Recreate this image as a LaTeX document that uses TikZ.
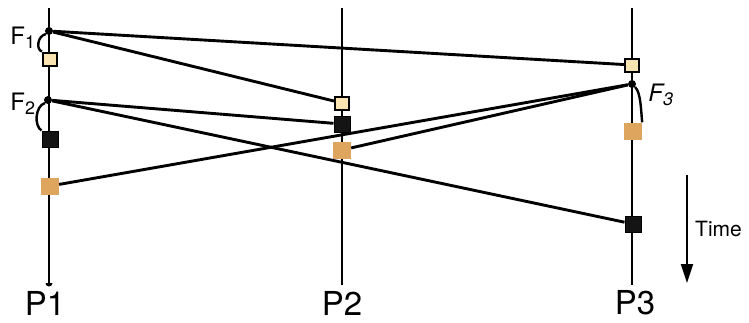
\documentclass[tikz,border=0pt]{standalone}
\usepackage{fontspec}
\setmainfont{TeX Gyre Heros}
\usetikzlibrary{arrows.meta}
\definecolor{lightsq}{HTML}{F9E3B0}
\definecolor{orangesq}{HTML}{DDA55E}
\tikzset{
  proc/.style={line width=2.3pt, black},
  msg/.style={line width=2.9pt, black},
  loopc/.style={line width=2.4pt, black},
  lightbox/.style={draw=black, line width=2pt, fill=lightsq, minimum width=14pt, minimum height=13pt, inner sep=0pt},
  darkbox/.style={draw=black, line width=1pt, fill=black!92, minimum width=16pt, minimum height=16pt, inner sep=0pt},
  orangebox/.style={fill=orangesq, minimum width=18pt, minimum height=17pt, inner sep=0pt},
  evdot/.style={circle, fill=black, minimum size=8pt, inner sep=0pt},
  plabel/.style={font=\fontsize{33}{35}\selectfont, inner sep=0pt},
  flabel/.style={font=\fontsize{24}{26}\selectfont, inner sep=0pt},
}
\begin{document}
\begin{tikzpicture}[x=1pt, y=-1pt]
\useasboundingbox (0,0) rectangle (749,322);
% process lines
\coordinate (p1top) at (49,8);
\coordinate (p1bot) at (49,283);
\coordinate (p2top) at (342,8);
\coordinate (p2bot) at (342,285);
\coordinate (p3top) at (632,8);
\coordinate (p3bot) at (632,285);
\draw[proc] (p1top) -- (p1bot);
\draw[proc] (p2top) -- (p2bot);
\draw[proc] (p3top) -- (p3bot);
\fill (p1bot) ++(-3.5,0) arc[start angle=180, end angle=0, radius=3.5] -- cycle;
% event squares
\node[lightbox] (s1a) at (50,59) {};
\node[darkbox] (s1b) at (50,139) {};
\node[orangebox] (s1c) at (50,186) {};
\node[lightbox] (s2a) at (342,103) {};
\node[darkbox] (s2b) at (342,124) {};
\node[orangebox] (s2c) at (342,150) {};
\node[lightbox] (s3a) at (632,65) {};
\node[orangebox] (s3c) at (633,131) {};
\node[darkbox] (s3b) at (633,224) {};
% event dots
\node[evdot] (f1) at (49,31) {};
\node[evdot] (f2) at (48,100) {};
\node[evdot] (f3) at (632,84) {};
% labels
\node[flabel] (lf1) at (23,38) {F\textsubscript{\fontsize{18}{19}\selectfont 1}};
\node[flabel] (lf2) at (23,104) {F\textsubscript{\fontsize{18}{19}\selectfont 2}};
\node[flabel] (lf3) at (661,95) {\itshape F\textsubscript{\fontsize{18}{19}\selectfont 3}};
\node[plabel] (lp1) at (45,303) {P1};
\node[plabel] (lp2) at (342,303) {P2};
\node[plabel] (lp3) at (635,303) {P3};
% local curves
\draw[loopc] (f1.south west) .. controls (37,36) and (36,50) .. (s1a.north west);
\draw[loopc] (f2.south west) .. controls (35,106) and (34,126) .. (s1b.north west);
\draw[loopc] (f3.south east) .. controls (641,92) and (641,112) .. (s3c.north east);
% messages
\draw[msg] (f1) -- (s3a);
\draw[msg] (f1) -- (s2a);
\draw[msg] (f2) -- (s2b);
\draw[msg] (f2) -- (s3b);
\draw[msg] (f3) -- (s2c);
\draw[msg] (f3) -- (s1c);
% time arrow
\coordinate (t1) at (687,175);
\coordinate (t2) at (687,283);
\draw[line width=2pt, -{Triangle[length=19pt, width=12pt]}] (t1) -- (t2);
\node[font=\fontsize{21}{23}\selectfont, anchor=west, inner sep=0pt] (time) at (695,229) {Time};
\end{tikzpicture}
\end{document}
